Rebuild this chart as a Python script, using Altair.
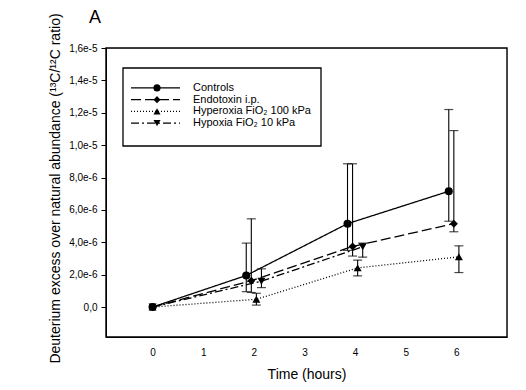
import altair as alt
import pandas as pd

series = ["Controls", "Endotoxin i.p.", "Hyperoxia FiO₂ 100 kPa", "Hypoxia FiO₂ 10 kPa"]

ctrl_t = [0, 1.85, 3.85, 5.85]
ctrl_mean = [0, 1.95e-6, 5.15e-6, 7.15e-6]
ctrl_lo = [None, 0.95e-6, 3.5e-6, 5.3e-6]
ctrl_hi = [None, 3.95e-6, 8.85e-6, 1.22e-5]

endo_t = [0, 1.95, 3.95, 5.95]
endo_mean = [0, 1.63e-6, 3.74e-6, 5.15e-6]
endo_lo = [None, 0.9e-6, 3.15e-6, 4.65e-6]
endo_hi = [None, 5.45e-6, 8.85e-6, 1.09e-5]

hyper_t = [0, 2.05, 4.05, 6.05]
hyper_mean = [0, 0.48e-6, 2.42e-6, 3.1e-6]
hyper_lo = [None, 0.12e-6, 1.92e-6, 2.13e-6]
hyper_hi = [None, 0.85e-6, 2.9e-6, 3.78e-6]

hypo_t = [0, 2.15, 4.15]
hypo_mean = [0, 1.6e-6, 3.72e-6]
hypo_lo = [None, 1.2e-6, 3.08e-6]
hypo_hi = [None, 2.36e-6, 3.95e-6]

y_ticks = [0, 2e-6, 4e-6, 6e-6, 8e-6, 1e-5, 1.2e-5, 1.4e-5, 1.6e-5]
x_ticks = [0, 1, 2, 3, 4, 5, 6]

shapes = ["circle", "diamond", "triangle-up", "triangle-down"]
dashes = [[1, 0], [10, 4], [1, 2], [8, 3, 2, 3]]

rows = []
for name, ts, ms, los, his in [
    (series[0], ctrl_t, ctrl_mean, ctrl_lo, ctrl_hi),
    (series[1], endo_t, endo_mean, endo_lo, endo_hi),
    (series[2], hyper_t, hyper_mean, hyper_lo, hyper_hi),
    (series[3], hypo_t, hypo_mean, hypo_lo, hypo_hi),
]:
    for t, m, lo, hi in zip(ts, ms, los, his):
        rows.append({"series": name, "t": t, "mean": m, "lo": lo, "hi": hi})
df = pd.DataFrame(rows)
err = df.dropna(subset=["lo", "hi"])

FONT = "Liberation Sans"
YTITLE = "Deuterium excess over natural abundance (¹³C/¹²C ratio)"
W, H = 401, 289

xs = alt.Scale(domain=[-0.92, 7], nice=False, zero=False)
ys = alt.Scale(domain=[-1.85e-6, 1.6e-5], nice=False, zero=False)
shape_s = alt.Scale(domain=series, range=shapes)
dash_s = alt.Scale(domain=series, range=dashes)

xaxis = alt.Axis(values=x_ticks, ticks=False, labelPadding=10, grid=False,
                 titlePadding=10, format="d", titleFontWeight="normal", titleFontSize=14,
                 domainColor="black", labelColor="black", titleColor="black")
yaxis = alt.Axis(values=y_ticks, tickSize=5, labelPadding=4, grid=False, titlePadding=6,
                 titleFontWeight="normal", titleFontSize=14, titleY=140,
                 domainColor="black", tickColor="black", labelColor="black", titleColor="black",
                 labelExpr="datum.value == 0 ? '0,0' : replace(format(datum.value, '.1e'), '.', ',')")

X = alt.X("t:Q", scale=xs, title="Time (hours)", axis=xaxis)

def Yf(field):
    return alt.Y(field, scale=ys, title=YTITLE, axis=yaxis)

base = alt.Chart(df)

lines = base.mark_line(color="black", strokeWidth=1.3).encode(
    x=X, y=Yf("mean:Q"),
    strokeDash=alt.StrokeDash("series:N", scale=dash_s, legend=None),
    order="t:Q",
)

rules = alt.Chart(err).mark_rule(color="black", strokeWidth=1.1).encode(
    x=X, y=Yf("lo:Q"), y2="hi:Q")
cap_hi = alt.Chart(err).mark_tick(color="black", size=9, thickness=1.2, orient="horizontal").encode(
    x=X, y=Yf("hi:Q"))
cap_lo = alt.Chart(err).mark_tick(color="black", size=9, thickness=1.2, orient="horizontal").encode(
    x=X, y=Yf("lo:Q"))

points = base.mark_point(filled=True, color="black", opacity=1, size=65).encode(
    x=X, y=Yf("mean:Q"),
    shape=alt.Shape("series:N", scale=shape_s, legend=None),
)

data_layer = alt.layer(lines, rules, cap_hi, cap_lo, points)

one = pd.DataFrame({"k": [0]})
frame = alt.Chart(one).mark_rect(fill=None, fillOpacity=0, stroke="black", strokeWidth=1.4).encode(
    x=alt.value(0), x2=alt.value(W), y=alt.value(0), y2=alt.value(H))

# legend built from the series list
leg_df = pd.DataFrame({"series": series})
leg_y = alt.Y("series:N", scale=alt.Scale(domain=series, range=[34, 81]), axis=None)
leg_box = alt.Chart(one).mark_rect(
    fill="white", stroke="black", strokeWidth=1.3).encode(
    x=alt.value(17), x2=alt.value(215), y=alt.value(20), y2=alt.value(98))
leg_line = alt.Chart(leg_df).mark_rule(color="black", strokeWidth=1.2).encode(
    x=alt.value(25), x2=alt.value(74), y=leg_y,
    strokeDash=alt.StrokeDash("series:N", scale=dash_s, legend=None))
leg_pt = alt.Chart(leg_df).mark_point(filled=True, color="black", opacity=1, size=50).encode(
    x=alt.value(51), y=leg_y,
    shape=alt.Shape("series:N", scale=shape_s, legend=None))
leg_txt = alt.Chart(leg_df).mark_text(align="left", baseline="middle", font=FONT,
                                      fontSize=11, color="black").encode(
    x=alt.value(87), y=leg_y, text="series:N")

panel = alt.Chart(pd.DataFrame({"lab": ["A"]})).mark_text(
    align="left", baseline="middle", font=FONT, fontSize=18, color="black").encode(
    x=alt.value(-17), y=alt.value(-30), text="lab:N")

legend_layer = alt.layer(frame, leg_box, leg_line, leg_pt, leg_txt, panel)

chart = alt.layer(data_layer, legend_layer).resolve_scale(y="independent").properties(
    width=W, height=H,
    autosize=alt.AutoSizeParams(type="none"),
    padding={"left": 98, "top": 40, "right": 11, "bottom": 45},
).configure_view(stroke=None).configure_axis(
    domainColor="black", tickColor="black", labelColor="black", titleColor="black",
    labelFont=FONT, titleFont=FONT, labelFontSize=11.5,
    titleFontWeight="normal", domainWidth=1.4,
).configure(background="white")

chart.save("out.html", embed_options={"renderer": "svg", "actions": False})
